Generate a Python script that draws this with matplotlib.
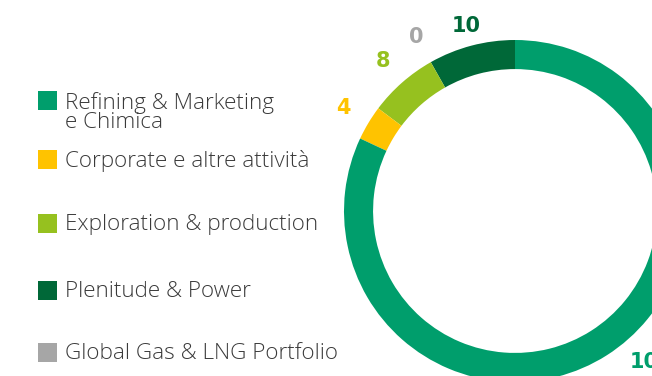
import numpy as np
import matplotlib.pyplot as plt
from matplotlib.patches import Rectangle

# segmenti in senso antiorario partendo dalle ore 12
settori = ['Plenitude & Power', 'Global Gas & LNG Portfolio', 'Exploration & production',
           'Corporate e altre attività', 'Refining & Marketing\ne Chimica']
valori = [10, 0, 8, 4, 100]
colori = ['#006838', '#A6A6A6', '#96C11F', '#FFC300', '#009E6C']

# ordine della legenda (dall'alto)
legenda = ['Refining & Marketing\ne Chimica', 'Corporate e altre attività',
           'Exploration & production', 'Plenitude & Power', 'Global Gas & LNG Portfolio']
legenda_y = [100.5, 159.5, 223.5, 290.5, 352.5]  # px dall'alto

W, H = 652, 376
fig = plt.figure(figsize=(W / 100, H / 100), dpi=100)

# asse della ciambella: centro (515, 211) px, raggio 171 px
cx, cy, R = 515, 211, 171
ax = fig.add_axes([(cx - R) / W, (H - cy - R) / H, 2 * R / W, 2 * R / H])
ax.pie(valori, colors=colori, startangle=90, counterclock=True,
       radius=1, wedgeprops=dict(width=0.17, linewidth=0))
ax.set_xlim(-1, 1)
ax.set_ylim(-1, 1)
ax.set_aspect('equal')
ax.axis('off')

# etichette dei valori fuori dall'anello
tot = sum(valori)
ang = 90
for i, (v, c) in enumerate(zip(valori, colori)):
    a = np.deg2rad(ang + v / tot * 180)
    r = 1.12 if i == 0 else 1.17
    x, y = r * np.cos(a), r * np.sin(a)
    if i == len(valori) - 1:
        x, y = 0.80, -0.885  # etichetta grande spostata verso il bordo
    ax.text(x, y, str(v), color=c, fontsize=15, fontweight='bold',
            ha='center', va='center', family='DejaVu Sans')
    ang += v / tot * 360

# legenda
for nome, y in zip(legenda, legenda_y):
    c = colori[settori.index(nome)]
    fig.add_artist(Rectangle((38 / W, 1 - (y + 9.5) / H), 19 / W, 19 / H,
                             transform=fig.transFigure, color=c, lw=0))
    yt = 112.5 if '\n' in nome else y + 1
    fig.text(65 / W, 1 - yt / H, nome, fontsize=16.2, color='#3a3a3a',
             family='Open Sans', fontweight='light', va='center', linespacing=0.9)

fig.savefig('out.png', dpi=100)
